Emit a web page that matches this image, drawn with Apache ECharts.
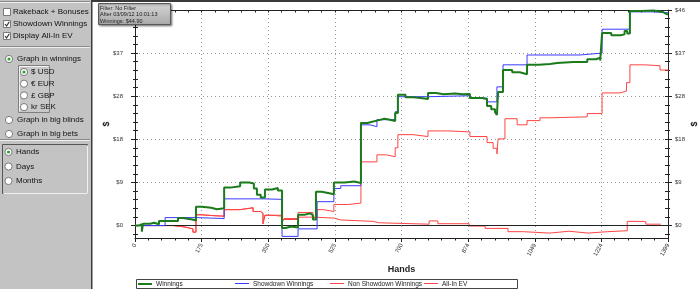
<!DOCTYPE html>
<html><head><meta charset="utf-8">
<script src="https://cdn.jsdelivr.net/npm/echarts@6/dist/echarts.min.js"></script>
<style>html,body{margin:0;padding:0;background:#fff;overflow:hidden}#c{width:700px;height:289px}</style>
</head><body><div id="c"></div>
<script>
// ---------- data ----------
const seriesNames = ['Winnings', 'Showdown Winnings', 'Non Showdown Winnings', 'All-In EV'];
const xTicks = [0, 174.875, 349.75, 524.625, 699.5, 874.375, 1049.25, 1224.125, 1399];
const yTicks = [0, 9.2, 18.4, 27.6, 36.8, 46];
const winnings = [
  [0,0],[10,0.3],[18,-1.3],[21,0.4],[40,0.6],[50,0.3],[63,1.0],[100,1.0],[113,1.6],[126,1.3],[150,1.1],
  [160,4.0],[175,3.8],[200,3.5],[215,3.7],[234,8.1],[250,8.4],[276,9.2],[300,9.0],[312,7.9],[320,6.6],
  [330,6.0],[341,7.7],[360,8.0],[375,7.5],[386,-0.5],[395,-0.2],[410,-0.4],[428,2.3],[445,2.6],[460,2.2],
  [467,1.3],[475,7.2],[490,6.9],[510,6.7],[522,9.2],[550,9.4],[575,9.1],[593,21.9],[610,22.1],[620,22.4],
  [635,22.8],[655,22.6],[669,22.3],[683,24.0],[690,27.9],[710,27.4],[730,27.2],[750,27.0],[769,28.3],
  [790,28.0],[810,28.2],[840,28.0],[860,28.1],[879,27.2],[910,27.0],[924,25.5],[935,24.8],[945,24.2],
  [950,23.6],[953,28.5],[966,33.2],[990,32.7],[1010,32.3],[1029,34.3],[1060,34.5],[1089,34.7],[1108,34.9],
  [1150,34.9],[1187,35.5],[1210,35.8],[1221,35.2],[1226,41.1],[1250,40.6],[1275,40.8],[1285,41.5],
  [1292,41.0],[1299,45.8],[1330,45.9],[1360,45.7],[1378,45.6],[1385,45.3],[1392,45.0],[1399,44.9]
];
const showdown = [
  [0,0],[79,1.7],[126,1.7],[163,1.5],[234,5.7],[336,5.6],[386,-2.3],[428,-0.7],[478,5.1],[522,7.9],
  [540,8.5],[593,21.5],[617,21.1],[635,22.6],[683,24.3],[690,27.5],[769,27.7],[879,27.2],[924,26.4],
  [950,29.6],[966,34.3],[1029,36.4],[1168,36.8],[1226,41.9],[1299,45.6],[1360,45.4],[1399,45.3]
];
const nonShowdown = [
  [0,0],[100,-0.3],[131,-0.7],[152,-1.4],[160,2.3],[175,2.1],[210,2.0],[234,3.4],[276,3.8],[310,3.0],
  [330,2.6],[336,0.4],[341,2.2],[360,2.0],[386,1.3],[428,1.8],[470,1.6],[522,1.2],[540,0.9],[625,0.6],
  [640,0.3],[772,1.0],[795,0.4],[877,-0.1],[919,-0.6],[979,-1.3],[1019,-1.6],[1089,-1.2],[1139,-1.6],
  [1189,-1.3],[1240,-1.1],[1292,0.9],[1334,0.8],[1341,0.3],[1380,0.2]
];
const allInEV = [
  [0,0],[100,-0.3],[131,-0.7],[152,-1.4],[160,2.3],[175,2.1],[210,2.0],[234,3.4],[276,3.8],[310,3.0],
  [330,2.6],[336,0.4],[341,2.2],[386,0.6],[391,1.5],[428,2.8],[467,1.7],[478,3.4],[495,3.0],[522,4.5],
  [560,4.8],[593,13.6],[635,15.1],[660,14.7],[683,16.6],[690,19.4],[730,19.0],[769,20.2],[820,20.0],
  [879,19.0],[924,17.7],[940,16.5],[950,15.3],[953,18.5],[971,22.8],[1003,21.5],[1029,22.4],[1063,23.0],
  [1089,23.2],[1187,23.9],[1226,28.3],[1273,28.7],[1290,30.5],[1299,34.3],[1340,34.1],[1378,33.2],[1399,33.0]
];
const checkLabels = ['Rakeback + Bonuses', 'Showdown Winnings', 'Display All-In EV'];
const checkStates = [false, true, true];
const graphModes = ['Graph in winnings', 'Graph in big blinds', 'Graph in big bets'];
const currencies = ['$ USD', '€ EUR', '£ GBP', 'kr SEK'];
const timeModes = ['Hands', 'Days', 'Months'];
const filterLines = ['Filter: No Filter', 'After 03/09/12 10:01:13', 'Winnings: $44.90'];

// ---------- helpers ----------
const FONT = '"Liberation Sans", Arial, sans-serif';
function minors(ticks, extraBelow) {
  const out = [];
  for (let i = 0; i < ticks.length - 1; i++) {
    const s = (ticks[i + 1] - ticks[i]) / 5;
    for (let j = 1; j < 5; j++) out.push(ticks[i] + j * s);
  }
  if (extraBelow) out.push(ticks[0] - (ticks[1] - ticks[0]) / 5);
  return out;
}
const xMinor = minors(xTicks, false);
const yMinor = minors(yTicks, true);
const xAll = xTicks.concat(xMinor);
const yAll = yTicks.concat(yMinor);
const YMIN = -2.65, YMAX = 46;

const colors = ['#1b7a1b', '#3a3aff', '#ff4444', '#ff4444'];
const widths = [2, 1, 1, 1];
const datas = [winnings, showdown, nonShowdown, allInEV];
const zs = [6, 5, 3, 4];
const legendLefts = [138, 235, 330, 424];

const g = [];
// left panel
g.push({type:'rect', silent:true, shape:{x:0,y:0,width:91,height:289}, style:{fill:'#c3c3c3'}});
g.push({type:'rect', silent:true, shape:{x:91,y:0,width:1.5,height:289}, style:{fill:'#3c3c3c'}});
g.push({type:'rect', silent:true, shape:{x:92,y:0,width:608,height:2}, style:{fill:'#3a3a3a'}});
function hline(y){ g.push({type:'line', silent:true, shape:{x1:0,y1:y,x2:90,y2:y}, style:{stroke:'#8a8a8a',lineWidth:1}});
  g.push({type:'line', silent:true, shape:{x1:0,y1:y+1,x2:90,y2:y+1}, style:{stroke:'#efefef',lineWidth:1}}); }
hline(1.5); hline(46.5); hline(139.5);
function label(x, y, t){ g.push({type:'text', silent:true, x:x, y:y, style:{text:t, fill:'#111', font:'8px '+FONT, verticalAlign:'middle'}}); }
checkLabels.forEach((t, i) => {
  const cy = 12 + i * 12;
  g.push({type:'rect', silent:true, shape:{x:3.5,y:cy-3.5,width:7,height:7}, style:{fill:'#fff', stroke:'#7a7a7a', lineWidth:1}});
  if (checkStates[i]) g.push({type:'polyline', silent:true, shape:{points:[[5,cy],[6.6,cy+2],[9.3,cy-2.3]]}, style:{stroke:'#333', lineWidth:1.2, fill:null}});
  label(13, cy, t);
});
function radio(cx, cy, sel, t, lx) {
  g.push({type:'circle', silent:true, shape:{cx:cx,cy:cy,r:3.6}, style:{fill:'#fff', stroke:'#7a7a7a', lineWidth:1}});
  if (sel) g.push({type:'circle', silent:true, shape:{cx:cx,cy:cy,r:1.6}, style:{fill:'#2aa52a'}});
  label(lx, cy, t);
}
radio(9, 59, true, graphModes[0], 17);
// currency sub box
g.push({type:'rect', silent:true, shape:{x:18.5,y:65.5,width:31,height:47}, style:{fill:'#c8c8c8', stroke:'#7f7f7f', lineWidth:1}});
g.push({type:'polyline', silent:true, shape:{points:[[19.5,111.5],[19.5,66.5],[48.5,66.5]]}, style:{stroke:'#f2f2f2', lineWidth:1, fill:null}});
currencies.forEach((t, i) => radio(24, 72 + i * 11.7, i === 0, t, 31));
radio(9, 120, false, graphModes[1], 17);
radio(9, 134, false, graphModes[2], 17);
// time box
g.push({type:'rect', silent:true, shape:{x:2.5,y:144.5,width:85,height:49}, style:{fill:'#c3c3c3', stroke:'#555', lineWidth:1}});
g.push({type:'polyline', silent:true, shape:{points:[[3.5,193.5],[87.5,193.5],[87.5,145.5]]}, style:{stroke:'#f0f0f0', lineWidth:1, fill:null}});
timeModes.forEach((t, i) => radio(8.5, 152 + i * 14.5, i === 0, t, 16));
// filter box
g.push({type:'rect', silent:true, z:20, shape:{x:98.5,y:3.5,width:72,height:21},
  style:{fill:new echarts.graphic.LinearGradient(0,0,0,1,[{offset:0,color:'#d6d6d6'},{offset:1,color:'#a9a9a9'}]), stroke:'#5a5a5a', lineWidth:1, shadowBlur:2, shadowColor:'rgba(0,0,0,0.4)', shadowOffsetX:1, shadowOffsetY:1}});
filterLines.forEach((t, i) => g.push({type:'text', silent:true, z:21, x:100, y:8 + i * 6.5, style:{text:t, fill:'#222', font:'5.5px '+FONT, verticalAlign:'middle'}}));
// legend box + legend keys
g.push({type:'rect', silent:true, z:-1, shape:{x:136.5,y:279.5,width:381,height:9}, style:{fill:'#fff', stroke:'#444', lineWidth:1}});
legendLefts.forEach((lx, i) => {
  g.push({type:'rect', silent:true, z:30, shape:{x:lx, y:283, width:14, height:widths[i]}, style:{fill:colors[i]}});
});

const axisLineStyle = {color:'#222', width:1};
const lblStyle = {fontSize:6, color:'#333', fontFamily:FONT};
function helperY(pos, vals, len, inside){ return {type:'value', min:YMIN, max:YMAX, position:pos, axisLine:{show:false,onZero:false},
  axisTick:{show:true, inside:inside, customValues:vals, length:len, lineStyle:axisLineStyle}, axisLabel:{show:false}, splitLine:{show:false}}; }
function helperX(pos, vals, len, inside, line){ return {type:'value', min:0, max:1399, position:pos, axisLine:{show:line,onZero:false,lineStyle:axisLineStyle},
  axisTick:{show:true, inside:inside, customValues:vals, length:len, lineStyle:axisLineStyle}, axisLabel:{show:false}, splitLine:{show:false}}; }

const option = {
  animation: false,
  backgroundColor: '#fff',
  grid: {left:135, right:32, top:10, bottom:51, containLabel:false, outerBoundsMode:'none'},
  graphic: g,
  legend: seriesNames.map((n, i) => ({
    data:[{name:n, icon:'none'}],
    left:legendLefts[i], top:280, padding:0,
    itemWidth:14, itemHeight:8, itemGap:0,
    selectedMode:false, textStyle:{fontSize:6.5, color:'#222', fontFamily:FONT, padding:[0,0,0,-1]}})),
  xAxis: [
    {type:'value', min:0, max:1399, position:'bottom',
      axisLine:{show:true,onZero:false,lineStyle:axisLineStyle},
      axisTick:{show:true, customValues:xTicks, length:4, lineStyle:axisLineStyle},
      axisLabel:Object.assign({customValues:xTicks, formatter:v=>String(Math.round(v)), rotate:62, margin:6, hideOverlap:false}, lblStyle),
      splitLine:{show:true, lineStyle:{type:[1,3], color:'#9a9a9a', width:1}},
      name:'Hands', nameLocation:'middle', nameGap:27, nameMoveOverlap:false,
      nameTextStyle:{fontWeight:'bold', fontSize:9, color:'#222', fontFamily:FONT}},
    helperX('bottom', xMinor, 2.5, false, false),
    helperX('top', xAll, 2.5, true, true)
  ],
  yAxis: [
    {type:'value', min:YMIN, max:YMAX, position:'left',
      axisLine:{show:true,onZero:false,lineStyle:axisLineStyle},
      axisTick:{show:true, customValues:yTicks, length:4, lineStyle:axisLineStyle},
      axisLabel:Object.assign({customValues:yTicks, formatter:v=>'$'+Math.round(v), margin:12, hideOverlap:false}, lblStyle),
      splitLine:{show:true, lineStyle:{type:[1,3], color:'#9a9a9a', width:1}},
      name:'$', nameLocation:'middle', nameRotate:90, nameGap:24, nameMoveOverlap:false,
      nameTextStyle:{fontSize:9, fontWeight:'bold', color:'#222', fontFamily:FONT}},
    helperY('left', yMinor, 2, false),
    helperY('left', yAll, 3, true),
    {type:'value', min:YMIN, max:YMAX, position:'right',
      axisLine:{show:true,onZero:false,lineStyle:axisLineStyle},
      axisTick:{show:true, customValues:yTicks, length:4, lineStyle:axisLineStyle},
      axisLabel:Object.assign({customValues:yTicks, formatter:v=>'$'+Math.round(v), margin:7, hideOverlap:false}, lblStyle),
      splitLine:{show:false},
      name:'$', nameLocation:'middle', nameRotate:90, nameGap:22, nameMoveOverlap:false,
      nameTextStyle:{fontSize:9, fontWeight:'bold', color:'#222', fontFamily:FONT}},
    helperY('right', yMinor, 2, false),
    helperY('right', yAll, 3, true)
  ],
  series: seriesNames.map((n, i) => {
    const s = {name:n, type:'line', step:'end', data:datas[i], symbol:'none', showSymbol:false, z:zs[i],
      color:colors[i], itemStyle:{color:colors[i]},
      lineStyle:{color:colors[i], width:widths[i]}, emphasis:{disabled:true}, silent:true, clip:true};
    if (i === 2) s.markLine = {silent:true, symbol:'none', label:{show:false}, animation:false,
      lineStyle:{color:'#222', type:'solid', width:1}, emphasis:{disabled:true}, data:[{yAxis:0}]};
    return s;
  })
};
const chart = echarts.init(document.getElementById('c'), null, {renderer:'canvas'});
chart.setOption(option);
</script>
</body></html>
